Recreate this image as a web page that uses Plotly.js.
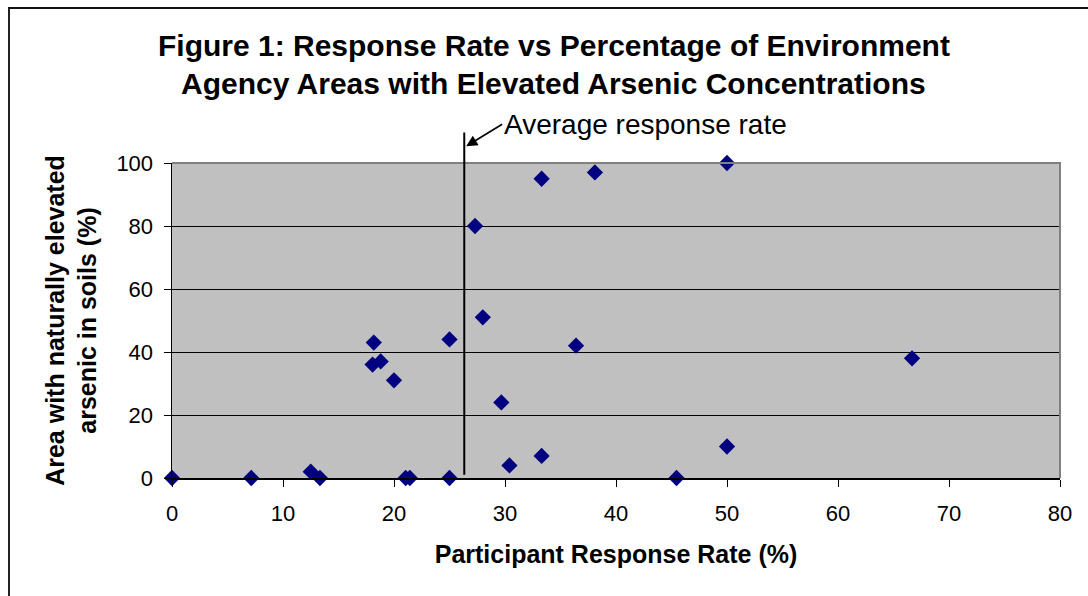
<!DOCTYPE html>
<html>
<head>
<meta charset="utf-8">
<script src="https://cdn.plot.ly/plotly-3.0.1.min.js"></script>
<style>
  html, body { margin: 0; padding: 0; background: #ffffff; }
  #wrap { position: relative; width: 1088px; height: 596px; overflow: hidden; }
  #chart { width: 1088px; height: 596px; }
  #frame { position: absolute; left: 8px; top: 7px; width: 1200px; height: 700px;
           border-left: 2px solid #222; border-top: 2px solid #111; pointer-events: none; }
</style>
</head>
<body>
<div id="wrap">
  <div id="chart"></div>
  <div id="frame"></div>
</div>
<script>
// Participant response rate (%)
var responseRate = [0, 7.14, 12.5, 13.33, 18.18, 18.07, 18.8, 20.0, 21.05, 21.43, 25.0, 25.0,
                    27.3, 28.0, 29.67, 30.4, 33.3, 33.3, 38.1, 36.4, 50.0, 50.0, 45.45, 66.67];
// Area with naturally elevated arsenic in soils (%)
var elevatedArea = [0, 0, 2, 0, 43, 36, 37, 31, 0, 0, 44, 0,
                    80, 51, 24, 4, 7, 95, 97, 42, 100, 10, 0, 38];
var averageRate = 26.33;
var xTicks = [0, 10, 20, 30, 40, 50, 60, 70, 80];
var yTicks = [0, 20, 40, 60, 80, 100];
var xMax = 80;
var titleLines = ['Figure 1: Response Rate vs Percentage of Environment',
                  'Agency Areas with Elevated Arsenic Concentrations'];

var font = 'Liberation Sans, Arial, Helvetica, sans-serif';

var trace = {
  x: responseRate,
  y: elevatedArea,
  type: 'scatter',
  mode: 'markers',
  marker: { symbol: 'diamond', size: 12.5, color: '#000080', line: { width: 0 } },
  cliponaxis: false,
  hoverinfo: 'x+y'
};

var layout = {
  width: 1088,
  height: 596,
  margin: { l: 172, r: 28, t: 163, b: 118 },
  paper_bgcolor: '#ffffff',
  plot_bgcolor: '#C0C0C0',
  showlegend: false,
  font: { family: font, color: '#000000', size: 22 },
  xaxis: {
    range: [0, xMax],
    tickvals: xTicks,
    ticktext: xTicks.map(String),
    showgrid: false,
    zeroline: false,
    showline: true, linecolor: '#000000', linewidth: 1.5,
    ticks: 'outside', ticklen: 7, tickwidth: 1, tickcolor: '#000000',
    tickfont: { family: font, size: 22, color: '#000000' },
    ticklabelstandoff: 8,
    title: { text: '<b>Participant Response Rate (%)</b>', font: { family: font, size: 25, color: '#000000' }, standoff: 20 },
    fixedrange: true
  },
  yaxis: {
    range: [0, 100],
    tickvals: yTicks,
    ticktext: yTicks.map(String),
    showgrid: true, gridcolor: '#000000', gridwidth: 1,
    zeroline: false,
    showline: true, linecolor: '#000000', linewidth: 1.5,
    ticks: 'outside', ticklen: 7, tickwidth: 1, tickcolor: '#000000',
    tickfont: { family: font, size: 22, color: '#000000' },
    ticklabelstandoff: 6,
    title: { text: '<b>Area with naturally elevated<br>arsenic in soils (%)</b>', font: { family: font, size: 25, color: '#000000' }, standoff: 12 },
    fixedrange: true
  },
  shapes: [
    { type: 'path', xref: 'paper', yref: 'paper', path: 'M0,1 L1,1 L1,0',
      line: { color: '#808080', width: 2 }, layer: 'above' },
    { type: 'line', xref: 'paper', yref: 'paper',
      x0: averageRate / xMax, x1: averageRate / xMax, y0: 0.01, y1: 1.097,
      line: { color: '#000000', width: 2 }, layer: 'above' }
  ],
  annotations: [
    { xref: 'paper', yref: 'paper', x: 0.430, y: 1.372, xanchor: 'center', yanchor: 'middle',
      text: '<b>' + titleLines[0] + '</b>', showarrow: false,
      font: { family: font, size: 30, color: '#000000' } },
    { xref: 'paper', yref: 'paper', x: 0.430, y: 1.253, xanchor: 'center', yanchor: 'middle',
      text: '<b>' + titleLines[1] + '</b>', showarrow: false,
      font: { family: font, size: 30, color: '#000000' } },
    { xref: 'paper', yref: 'paper', x: 26.5 / xMax, y: 1.053,
      text: 'Average response rate', showarrow: true,
      axref: 'pixel', ayref: 'pixel', ax: 36, ay: -22,
      xanchor: 'left', yanchor: 'middle',
      arrowhead: 2, arrowsize: 1.4, arrowwidth: 1.6, arrowcolor: '#000000',
      font: { family: font, size: 28, color: '#000000' }, borderpad: 1 }
  ]
};

Plotly.newPlot('chart', [trace], layout, { displayModeBar: false, staticPlot: true });
</script>
</body>
</html>
